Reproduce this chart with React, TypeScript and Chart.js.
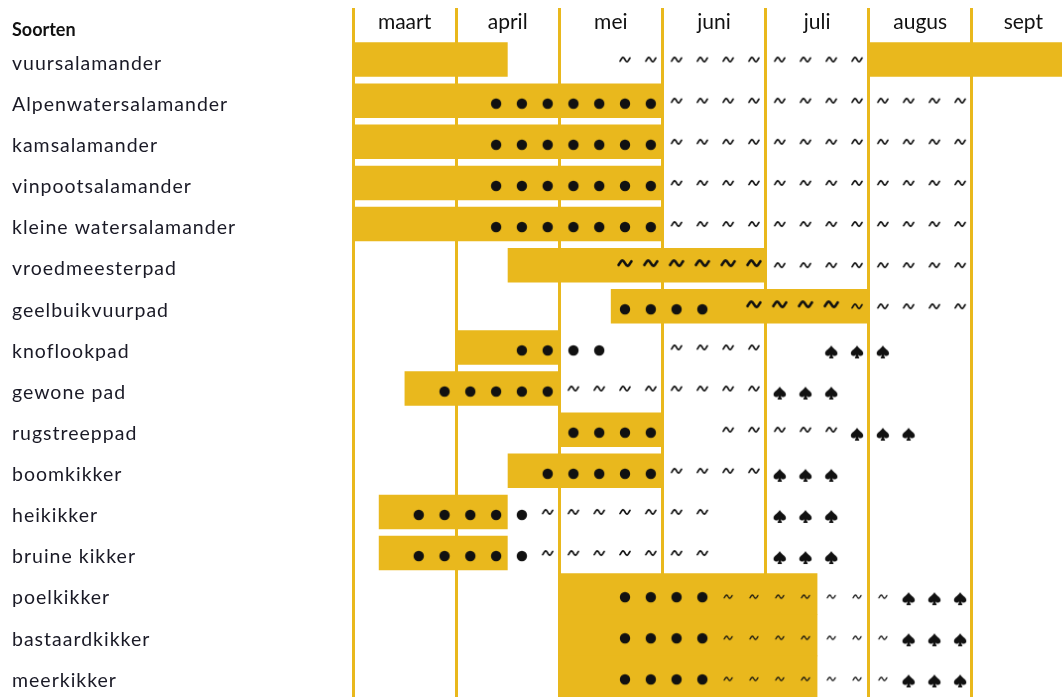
import React, { useEffect, useRef } from 'react';
import { Chart, registerables } from 'chart.js';

Chart.register(...registerables);

// ---- data ----
const months = ['maart', 'april', 'mei', 'juni', 'juli', 'augus', 'sept'];
const monthStartWeeks = [0, 4, 8, 12, 16, 20, 24];

const species = [
  'vuursalamander',
  'Alpenwatersalamander',
  'kamsalamander',
  'vinpootsalamander',
  'kleine watersalamander',
  'vroedmeesterpad',
  'geelbuikvuurpad',
  'knoflookpad',
  'gewone pad',
  'rugstreeppad',
  'boomkikker',
  'heikikker',
  'bruine kikker',
  'poelkikker',
  'bastaardkikker',
  'meerkikker',
];

// periods in weeks counted from the start of March (4 weeks per month)
const periodStart = [0, 0, 0, 0, 0, 6, 10, 4, 2, 8, 6, 1, 1, null, null, null];
const periodEnd = [6, 12, 12, 12, 12, 16, 20, 8, 8, 12, 12, 6, 6, null, null, null];
const secondStart = [20, null, null, null, null, null, null, null, null, null, null, null, null, null, null, null];
const secondEnd = [27.5, null, null, null, null, null, null, null, null, null, null, null, null, null, null, null];
const blockStart = [null, null, null, null, null, null, null, null, null, null, null, null, null, 8, 8, 8];
const blockEnd = [null, null, null, null, null, null, null, null, null, null, null, null, null, 18, 18, 18];

// symbol weeks per species
const dotWeeks = [
  [],
  [5, 6, 7, 8, 9, 10, 11],
  [5, 6, 7, 8, 9, 10, 11],
  [5, 6, 7, 8, 9, 10, 11],
  [5, 6, 7, 8, 9, 10, 11],
  [],
  [10, 11, 12, 13],
  [6, 7, 8, 9],
  [3, 4, 5, 6, 7],
  [8, 9, 10, 11],
  [7, 8, 9, 10, 11],
  [2, 3, 4, 5, 6],
  [2, 3, 4, 5, 6],
  [10, 11, 12, 13],
  [10, 11, 12, 13],
  [10, 11, 12, 13],
];
const bigTildeWeeks = [
  [], [], [], [], [],
  [10, 11, 12, 13, 14, 15],
  [15, 16, 17, 18],
  [], [], [], [], [], [], [], [], [],
];
const tildeWeeks = [
  [10, 11, 12, 13, 14, 15, 16, 17, 18, 19],
  [12, 13, 14, 15, 16, 17, 18, 19, 20, 21, 22, 23],
  [12, 13, 14, 15, 16, 17, 18, 19, 20, 21, 22, 23],
  [12, 13, 14, 15, 16, 17, 18, 19, 20, 21, 22, 23],
  [12, 13, 14, 15, 16, 17, 18, 19, 20, 21, 22, 23],
  [16, 17, 18, 19, 20, 21, 22, 23],
  [19, 20, 21, 22, 23],
  [12, 13, 14, 15],
  [8, 9, 10, 11, 12, 13, 14, 15],
  [14, 15, 16, 17, 18],
  [12, 13, 14, 15],
  [7, 8, 9, 10, 11, 12, 13],
  [7, 8, 9, 10, 11, 12, 13],
  [], [], [],
];
const tinyTildeWeeks = [
  [], [], [], [], [], [], [], [], [], [], [], [], [],
  [14, 15, 16, 17, 18, 19, 20],
  [14, 15, 16, 17, 18, 19, 20],
  [14, 15, 16, 17, 18, 19, 20],
];
const spadeWeeks = [
  [], [], [], [], [], [], [],
  [18, 19, 20],
  [16, 17, 18],
  [19, 20, 21],
  [16, 17, 18],
  [16, 17, 18],
  [16, 17, 18],
  [21, 22, 23],
  [21, 22, 23],
  [21, 22, 23],
];

// ---- styling ----
const GOLD = '#E9B81D';
const INK = '#111111';
const LABEL_INK = '#1a1a26';
const WEEK_CENTER = 0.55;

function symbolCanvas(draw: (ctx: CanvasRenderingContext2D, c: number) => void, size = 30) {
  const cv = document.createElement('canvas');
  cv.width = size;
  cv.height = size;
  const ctx = cv.getContext('2d') as CanvasRenderingContext2D;
  ctx.fillStyle = INK;
  ctx.strokeStyle = INK;
  draw(ctx, size / 2);
  return cv;
}

function dotImage(r: number, dy: number) {
  return symbolCanvas((ctx, c) => {
    ctx.beginPath();
    ctx.arc(c, c + dy, r, 0, Math.PI * 2);
    ctx.fill();
  });
}

function tildeImage(w: number, a: number, lw: number, dy: number) {
  return symbolCanvas((ctx, c) => {
    ctx.lineWidth = lw;
    ctx.lineCap = 'round';
    ctx.lineJoin = 'round';
    ctx.beginPath();
    const n = 24;
    for (let i = 0; i <= n; i++) {
      const t = i / n;
      const x = c - w / 2 + t * w;
      const y = c + dy - a * Math.sin(Math.PI * (2.5 * t - 0.25));
      if (i === 0) ctx.moveTo(x, y);
      else ctx.lineTo(x, y);
    }
    ctx.stroke();
  });
}

function spadeImage(dy: number) {
  return symbolCanvas((ctx, c) => {
    const cx = c;
    const top = c + dy - 6.5;
    const bottom = c + dy + 6.5;
    ctx.beginPath();
    ctx.moveTo(cx, top);
    ctx.bezierCurveTo(cx + 1.2, top + 3, cx + 6.2, top + 4.8, cx + 6.2, top + 8);
    ctx.bezierCurveTo(cx + 6.2, top + 10.8, cx + 2.6, top + 11.2, cx + 0.9, top + 9.2);
    ctx.lineTo(cx + 2.3, bottom);
    ctx.lineTo(cx - 2.3, bottom);
    ctx.lineTo(cx - 0.9, top + 9.2);
    ctx.bezierCurveTo(cx - 2.6, top + 11.2, cx - 6.2, top + 10.8, cx - 6.2, top + 8);
    ctx.bezierCurveTo(cx - 6.2, top + 4.8, cx - 1.2, top + 3, cx, top);
    ctx.closePath();
    ctx.fill();
  });
}

function points(weeks: number[][]) {
  const out: { x: number; y: string }[] = [];
  weeks.forEach((list, i) => {
    list.forEach((k) => out.push({ x: k + WEEK_CENTER, y: species[i] }));
  });
  return out;
}

function ranges(starts: (number | null)[], ends: (number | null)[]) {
  return starts.map((s, i) => (s === null || ends[i] === null ? null : [s, ends[i] as number]));
}

export default function App() {
  const ref = useRef<HTMLCanvasElement | null>(null);

  useEffect(() => {
    document.body.style.margin = '0';
    const canvas = ref.current;
    if (!canvas) return;

    const symbolDataset = (data: any[], style: HTMLCanvasElement) => ({
      type: 'scatter' as const,
      data,
      pointStyle: style,
      pointRadius: 5,
      pointHoverRadius: 5,
      pointBorderWidth: 0,
      showLine: false,
      clip: false,
      order: 0,
    });

    const barDataset = (data: any[], barPercentage: number) => ({
      type: 'bar' as const,
      indexAxis: 'y' as const,
      data,
      backgroundColor: GOLD,
      borderWidth: 0,
      grouped: false,
      barPercentage,
      categoryPercentage: 1,
      order: 10,
    });

    // species labels are drawn after the datasets (ticks z = 1) with a little tracking
    const trackingPlugin = {
      id: 'labelTracking',
      afterDatasetsDraw(chart: any) {
        chart.ctx.letterSpacing = '1px';
      },
      afterDraw(chart: any) {
        const { ctx } = chart;
        ctx.letterSpacing = '0px';
        ctx.save();
        ctx.font = 'bold 18px Lato';
        ctx.fillStyle = INK;
        ctx.textBaseline = 'alphabetic';
        ctx.textAlign = 'left';
        ctx.fillText('Soorten', 12, chart.chartArea.top - 3);
        ctx.restore();
      },
    };

    const chart = new Chart(canvas, {
      type: 'bar',
      data: {
        labels: species,
        datasets: [
          symbolDataset(points(dotWeeks), dotImage(5.2, 3)) as any,
          symbolDataset(points(bigTildeWeeks), tildeImage(13, 2.6, 2.6, -2)) as any,
          symbolDataset(points(tildeWeeks), tildeImage(10, 2.1, 1.7, 0)) as any,
          symbolDataset(points(tinyTildeWeeks), tildeImage(8, 1.6, 1.3, 2.5)) as any,
          symbolDataset(points(spadeWeeks), spadeImage(4.5)) as any,
          barDataset(ranges(periodStart, periodEnd), 0.84) as any,
          barDataset(ranges(secondStart, secondEnd), 0.84) as any,
          barDataset(ranges(blockStart, blockEnd), 1) as any,
        ],
      },
      options: {
        animation: false,
        responsive: false,
        layout: { autoPadding: false, padding: { left: 12, top: 8, right: 0, bottom: 0 } },
        plugins: {
          legend: { display: false },
          tooltip: { enabled: false },
        },
        scales: {
          x: {
            type: 'linear',
            position: 'top',
            offset: false,
            min: 0,
            max: 27.5,
            afterBuildTicks: (s: any) => {
              s.ticks = monthStartWeeks.map((v) => ({ value: v }));
            },
            afterFit: (s: any) => {
              s.height = 31;
              s.paddingLeft = 0;
              s.paddingRight = 0;
            },
            grid: {
              offset: false,
              color: GOLD,
              lineWidth: 3,
              drawTicks: true,
              tickLength: 31,
              tickColor: GOLD,
              tickWidth: 3,
            },
            border: { display: false },
            ticks: {
              callback: (v: any) => months[monthStartWeeks.indexOf(Number(v))],
              labelOffset: 51.56,
              padding: -26.6,
              autoSkip: false,
              maxRotation: 0,
              color: INK,
              font: { family: 'Lato', size: 21 },
              z: 0,
            },
          },
          y: {
            type: 'category',
            position: 'left',
            offset: true,
            grid: { display: false, offset: true },
            border: { display: false },
            afterFit: (s: any) => {
              s.width = 341;
              s.paddingTop = 0;
              s.paddingBottom = 0;
            },
            ticks: {
              crossAlign: 'far',
              labelOffset: 4,
              autoSkip: false,
              color: LABEL_INK,
              z: 1,
              font: (ctx: any) =>
                ctx.index >= 13 ? { family: 'Lato', size: 19.5 } : { family: 'Lato', size: 19.5 },
            },
          },
        } as any,
      },
      plugins: [trackingPlugin],
    });

    return () => chart.destroy();
  }, []);

  return (
    <div style={{ width: 1062, height: 697 }}>
      <canvas ref={ref} width={1062} height={697} style={{ display: 'block' }} />
    </div>
  );
}
